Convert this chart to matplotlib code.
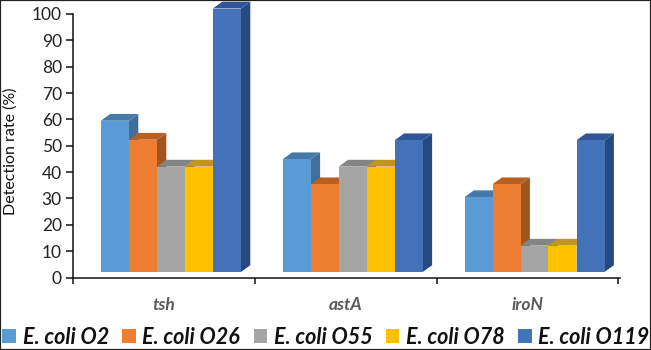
import matplotlib
matplotlib.use("Agg")
import matplotlib.pyplot as plt
from matplotlib.patches import Rectangle, Polygon

categories = ["tsh", "astA", "iroN"]
series_names = ["E. coli O2", "E. coli O26", "E. coli O55", "E. coli O78", "E. coli O119"]
o2 = [57.4, 42.8, 28.4]
o26 = [50.2, 33.3, 33.3]
o55 = [40, 40, 10]
o78 = [40, 40, 10]
o119 = [100, 50, 50]
series_values = [o2, o26, o55, o78, o119]
y_ticks = list(range(0, 101, 10))

front = ["#5B9BD5", "#ED7D31", "#A5A5A5", "#FFC000", "#4472B8"]
side = ["#3F6F9A", "#A0551F", "#737373", "#B58A10", "#264A80"]
top = ["#4479A8", "#B85F22", "#848484", "#C29428", "#2F5597"]

W, H = 651, 350
plt.rcParams["font.family"] = ["Lato", "DejaVu Sans"]
fig = plt.figure(figsize=(W / 100, H / 100), dpi=100, facecolor="white")
x0, x1, y0, y1 = 73, 620, 277.5, 14
ax = fig.add_axes([x0 / W, 1 - y0 / H, (x1 - x0) / W, (y0 - y1) / H])
cat_px = 181.8
ax.set_xlim(-0.5, -0.5 + (x1 - x0) / cat_px)
ax.set_ylim(0, 100)

px_y = 100 / (y0 - y1)
bar_w = 28 / cat_px
shift = 7 / cat_px
dx = 9.4 / cat_px
dy = 6.8 * px_y
floor = 5.5 * px_y

handles = []
for s, vals in enumerate(series_values):
    xs = [i + shift + (s - 2) * bar_w for i in range(len(categories))]
    bars = ax.bar(xs, vals, width=bar_w, bottom=floor, color=front[s], clip_on=False, zorder=3 + s * 3, linewidth=0, label=series_names[s])
    handles.append(bars)
    for x, v in zip(xs, vals):
        l, r, b, t = x - bar_w / 2, x + bar_w / 2, floor, floor + v
        ax.add_patch(Polygon([(r, b), (r + dx, b + dy), (r + dx, t + dy), (r, t)], closed=True, fc=side[s], ec="none", clip_on=False, zorder=2 + s * 3))
        ax.add_patch(Polygon([(l, t), (l + dx, t + dy), (r + dx, t + dy), (r, t)], closed=True, fc=top[s], ec="none", clip_on=False, zorder=2 + s * 3))

for sp in ("top", "right"):
    ax.spines[sp].set_visible(False)
for sp in ("left", "bottom"):
    ax.spines[sp].set_linewidth(1.1)
    ax.spines[sp].set_color("#111111")
    ax.spines[sp].set_zorder(30)

ax.set_yticks(y_ticks)
ax.tick_params(axis="y", length=5, width=1.1, labelsize=12.5, pad=3, color="#111111", labelcolor="#222222")
ax.set_xticks([-0.5, 0.5, 1.5, 2.5])
ax.set_xticklabels([])
ax.tick_params(axis="x", which="major", length=4, width=1.1, color="#111111")
ax.set_xticks(range(len(categories)), minor=True)
ax.set_xticklabels(categories, minor=True, fontsize=12.5, fontweight="bold", fontstyle="italic", color="#595959")
ax.tick_params(axis="x", which="minor", length=0, pad=14)

fig.text(10.5 / W, 1 - 151 / H, "Detection rate (%)", rotation=90, va="center", ha="center", fontsize=11.5, color="#111111")

fig.legend(handles=handles, loc="lower left", bbox_to_anchor=(0, 0), ncol=5, frameon=False,
           prop={"size": 15.5, "weight": "bold", "style": "italic"},
           handlelength=0.62, handleheight=0.62, handletextpad=0.32, columnspacing=0.62,
           borderpad=0.08, borderaxespad=0.03, labelcolor="#111111")

fig.add_artist(Rectangle((0, 0), 1, 1, transform=fig.transFigure, fill=False, ec="#222222", lw=1.6))
fig.savefig("out.png", dpi=100)
